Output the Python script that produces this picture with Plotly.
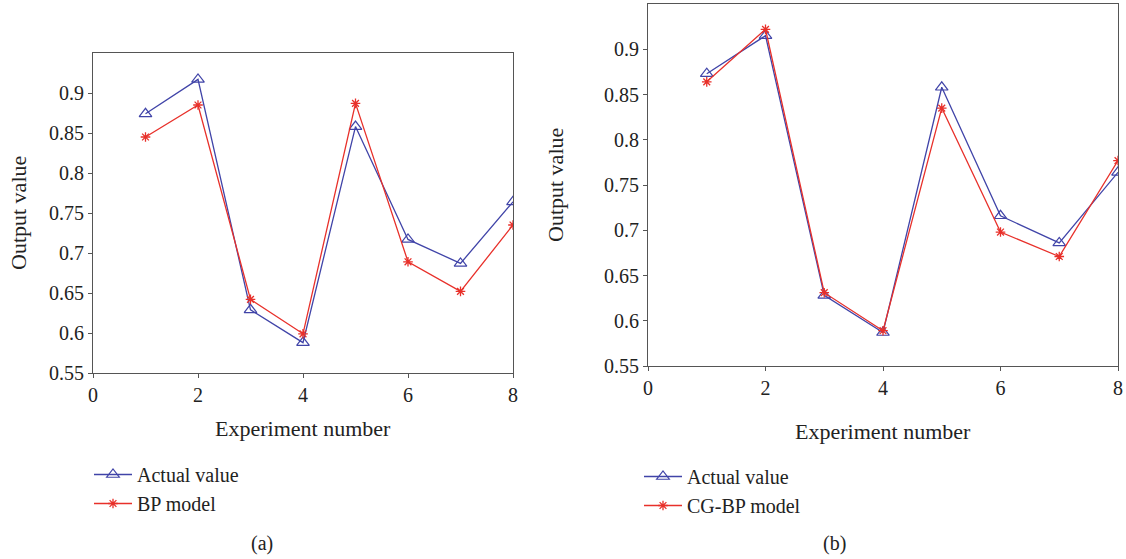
import plotly.graph_objects as go

experiments = [1, 2, 3, 4, 5, 6, 7, 8]
actual_a = [0.874, 0.917, 0.629, 0.588, 0.858, 0.717, 0.687, 0.764]
bp_model = [0.845, 0.885, 0.642, 0.599, 0.887, 0.689, 0.652, 0.735]
actual_b = [0.873, 0.915, 0.628, 0.587, 0.858, 0.716, 0.686, 0.764]
cgbp_model = [0.864, 0.922, 0.631, 0.589, 0.835, 0.698, 0.671, 0.777]
x_ticks = [0, 2, 4, 6, 8]
y_ticks = [0.55, 0.6, 0.65, 0.7, 0.75, 0.8, 0.85, 0.9]
y_tick_text = ["0.55", "0.6", "0.65", "0.7", "0.75", "0.8", "0.85", "0.9"]

W, H = 1126, 559
BLUE = "#4044a8"
RED = "#e8302a"
FONT = "Liberation Serif"
TXT = "#222222"

def px(x):
    return x / W

def py(y):
    return (H - y) / H

fig = go.Figure()

fig.add_trace(go.Scatter(x=experiments, y=actual_a, name="Actual value", mode="lines+markers",
                         line=dict(color=BLUE, width=1.3),
                         marker=dict(symbol="triangle-up-open", size=11, color=BLUE, line=dict(width=1.2)),
                         xaxis="x", yaxis="y", legend="legend"))
fig.add_trace(go.Scatter(x=experiments, y=bp_model, name="BP model", mode="lines+markers",
                         line=dict(color=RED, width=1.3),
                         marker=dict(symbol="asterisk-open", size=8, color=RED, line=dict(width=1.3, color=RED)),
                         xaxis="x", yaxis="y", legend="legend"))
fig.add_trace(go.Scatter(x=experiments, y=actual_b, name="Actual value", mode="lines+markers",
                         line=dict(color=BLUE, width=1.3),
                         marker=dict(symbol="triangle-up-open", size=11, color=BLUE, line=dict(width=1.2)),
                         xaxis="x2", yaxis="y2", legend="legend2"))
fig.add_trace(go.Scatter(x=experiments, y=cgbp_model, name="CG-BP model", mode="lines+markers",
                         line=dict(color=RED, width=1.3),
                         marker=dict(symbol="asterisk-open", size=8, color=RED, line=dict(width=1.3, color=RED)),
                         xaxis="x2", yaxis="y2", legend="legend2"))

axis_common = dict(showgrid=False, zeroline=False, showline=True, mirror=True,
                   linecolor="#555555", linewidth=1.2, ticks="outside", ticklen=4,
                   tickcolor="#555555", tickfont=dict(family=FONT, size=20, color=TXT),
                   automargin=False)

fig.update_layout(
    width=W, height=H,
    margin=dict(l=0, r=0, t=0, b=0),
    paper_bgcolor="white", plot_bgcolor="white",
    font=dict(family=FONT, size=20, color=TXT),
    xaxis=dict(domain=[px(93), px(513)], range=[0, 8], tickvals=x_ticks, anchor="y", **axis_common),
    yaxis=dict(domain=[py(373), py(53)], range=[0.55, 0.95], tickvals=y_ticks, ticktext=y_tick_text,
               anchor="x", **axis_common),
    xaxis2=dict(domain=[px(648), px(1118)], range=[0, 8], tickvals=x_ticks, anchor="y2", **axis_common),
    yaxis2=dict(domain=[py(366), py(4)], range=[0.55, 0.95], tickvals=y_ticks, ticktext=y_tick_text,
                anchor="x2", **axis_common),
    legend=dict(x=px(89), y=py(455), xanchor="left", yanchor="top", bgcolor="rgba(0,0,0,0)",
                font=dict(family=FONT, size=20, color=TXT), tracegroupgap=0, itemwidth=38),
    legend2=dict(x=px(639), y=py(457), xanchor="left", yanchor="top", bgcolor="rgba(0,0,0,0)",
                 font=dict(family=FONT, size=20, color=TXT), tracegroupgap=0, itemwidth=38),
    showlegend=True,
)

annotations = [
    dict(text="Experiment number", x=px(303), y=py(428), xref="paper", yref="paper",
         showarrow=False, font=dict(family=FONT, size=22, color=TXT), xanchor="center", yanchor="middle"),
    dict(text="Experiment number", x=px(883), y=py(431), xref="paper", yref="paper",
         showarrow=False, font=dict(family=FONT, size=22, color=TXT), xanchor="center", yanchor="middle"),
    dict(text="Output value", x=px(18), y=py(213), xref="paper", yref="paper", textangle=-90,
         showarrow=False, font=dict(family=FONT, size=22, color=TXT), xanchor="center", yanchor="middle"),
    dict(text="Output value", x=px(556), y=py(185), xref="paper", yref="paper", textangle=-90,
         showarrow=False, font=dict(family=FONT, size=22, color=TXT), xanchor="center", yanchor="middle"),
    dict(text="(a)", x=px(262), y=py(543), xref="paper", yref="paper",
         showarrow=False, font=dict(family=FONT, size=20, color=TXT), xanchor="center", yanchor="middle"),
    dict(text="(b)", x=px(835), y=py(543), xref="paper", yref="paper",
         showarrow=False, font=dict(family=FONT, size=20, color=TXT), xanchor="center", yanchor="middle"),
]
fig.update_layout(annotations=annotations)

fig.write_html("out.html", config={"displayModeBar": False},
               post_script="document.body.style.margin='0px';document.body.style.overflow='hidden';")
